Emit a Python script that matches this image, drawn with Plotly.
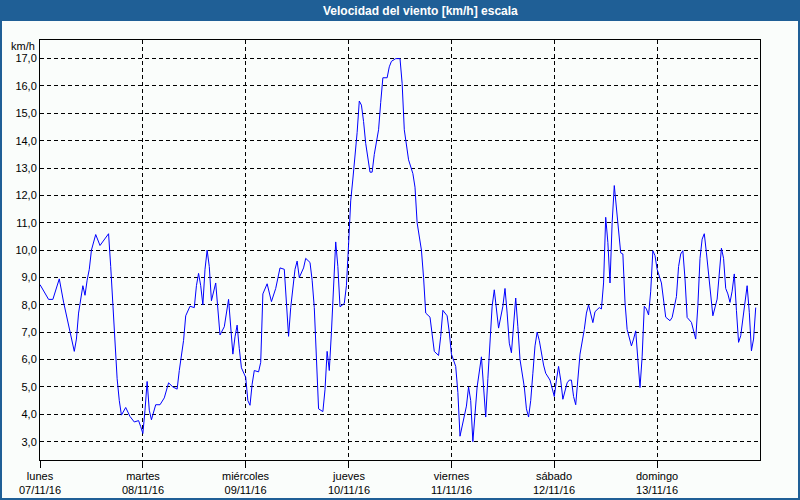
import pandas as pd
import plotly.graph_objects as go

# ---------------- data (readings per day: hour of day, km/h) ----------------
start_date = "2016-11-07"
day_names = ["lunes", "martes", "miércoles", "jueves", "viernes", "sábado", "domingo"]
day_dates = ["07/11/16", "08/11/16", "09/11/16", "10/11/16", "11/11/16", "12/11/16", "13/11/16"]

lunes = [(0, 8.74), (2, 8.2), (3, 8.2), (4.5, 8.95), (5.5, 8.1), (7, 7.0), (8, 6.3), (8.5, 6.75),
         (9, 7.7), (10, 8.7), (10.5, 8.35), (11, 8.9), (11.5, 9.3), (12, 10.0), (13, 10.57),
         (14, 10.17), (16, 10.6), (16.5, 9.4), (17, 8.0), (17.5, 6.5), (18, 5.3), (18.5, 4.5),
         (19, 3.97), (20, 4.25), (21, 3.92), (22, 3.72), (23, 3.77), (23.5, 3.55)]
martes = [(0, 3.3), (0.5, 4.15), (1, 5.2), (1.5, 4.15), (2, 3.8), (3, 4.35), (4, 4.35), (5, 4.6),
          (6, 5.15), (7, 5.0), (8, 4.92), (8.5, 5.6), (9.5, 6.7), (10, 7.6), (11, 7.95), (12, 7.9),
          (12.5, 8.7), (13, 9.15), (13.5, 8.7), (14, 8.0), (14.5, 9.3), (15, 10.0), (15.5, 9.4),
          (16, 8.15), (17, 8.8), (18, 6.9), (19, 7.2), (20, 8.2), (21, 6.2), (21.5, 6.83),
          (22, 7.26), (22.5, 6.4), (23, 5.7)]
miercoles = [(0, 5.35), (0.5, 4.5), (1, 4.33), (1.5, 5.1), (2, 5.6), (3, 5.55), (3.5, 5.9), (4, 8.4),
             (5, 8.77), (6, 8.12), (7, 8.6), (8, 9.35), (9, 9.3), (9.5, 8.0), (10, 6.85), (10.5, 7.9),
             (11.5, 9.3), (12, 9.6), (12.5, 9.0), (13.5, 9.35), (14, 9.7), (15, 9.55), (15.5, 8.9),
             (16, 7.9), (16.5, 6.0), (17, 4.2), (18, 4.1), (18.5, 4.9), (19, 6.3), (19.5, 5.6),
             (20, 7.0), (20.5, 8.9), (21, 10.3), (21.5, 9.4), (22, 7.93), (23, 8.05), (23.5, 8.7)]
jueves = [(0, 10.2), (0.5, 11.8), (1, 12.6), (1.5, 13.4), (2, 14.3), (2.5, 15.45), (3, 15.3),
          (3.5, 14.7), (4, 13.9), (5, 12.85), (5.5, 12.85), (6, 13.5), (7, 14.4), (7.5, 15.4),
          (8, 16.3), (9, 16.3), (9.5, 16.7), (10, 16.9), (11, 17.0), (12, 17.0), (12.5, 16.1),
          (13, 14.4), (14, 13.3), (15, 12.8), (15.5, 12.3), (16, 11.0), (17, 10.0), (17.5, 9.0),
          (18, 7.7), (19, 7.55), (19.5, 6.9), (20, 6.3), (21, 6.15), (21.5, 6.85), (22, 7.8),
          (23, 7.6), (23.5, 7.0)]
viernes = [(0, 6.2), (1, 5.75), (1.5, 4.8), (2, 3.2), (2.5, 3.55), (3.5, 4.3), (4, 5.0), (4.5, 4.5),
           (5, 3.0), (5.5, 3.9), (6, 5.0), (7, 6.1), (7.5, 5.0), (8, 3.9), (8.5, 5.3), (9, 6.9),
           (9.5, 7.95), (10, 8.55), (10.5, 7.8), (11, 7.15), (12, 7.95), (12.5, 8.6), (13, 7.7),
           (13.5, 6.6), (14, 6.25), (14.5, 7.35), (15, 8.25), (15.5, 7.2), (16, 6.0), (17, 5.0),
           (17.5, 4.2), (18, 3.9), (18.5, 4.5), (19, 5.5), (19.5, 6.5), (20, 7.0), (20.5, 6.7),
           (21.5, 5.8), (22, 5.5), (23, 5.25), (23.5, 4.9)]
sabado = [(0, 4.65), (0.5, 5.25), (1, 5.75), (1.5, 5.25), (2, 4.55), (3, 5.15), (3.5, 5.25), (4, 5.25),
          (4.5, 4.65), (5, 4.35), (5.5, 5.4), (6, 6.2), (7, 7.1), (7.5, 7.7), (8, 8.0), (8.5, 7.65),
          (9, 7.35), (9.5, 7.75), (10.5, 7.9), (11, 7.85), (11.5, 8.8), (12, 11.2), (12.5, 10.28),
          (13, 8.8), (13.5, 11.0), (14, 12.36), (14.5, 11.6), (15, 10.7), (15.5, 9.9), (16, 9.86),
          (16.5, 8.1), (17, 7.1), (18, 6.5), (18.5, 6.75), (19, 7.05), (19.5, 6.0), (20, 4.98),
          (20.5, 6.1), (21, 7.95), (21.5, 7.85), (22, 7.63), (22.5, 8.5), (23, 9.98), (23.5, 9.8)]
domingo = [(0, 9.3), (1, 8.8), (1.5, 8.1), (2, 7.55), (3, 7.42), (3.5, 7.54), (4.5, 8.3), (5, 9.4),
           (5.5, 9.86), (6, 9.98), (6.5, 8.95), (7, 7.54), (8, 7.36), (8.5, 7.0), (9, 6.75), (9.5, 7.97),
           (10, 9.7), (10.5, 10.4), (11, 10.6), (11.5, 9.9), (12, 9.1), (13, 7.6), (14, 8.21),
           (14.5, 9.3), (15, 10.07), (15.5, 9.7), (16, 8.6), (16.5, 8.4), (17, 8.09), (17.5, 8.5),
           (18, 9.13), (18.5, 7.8), (19, 6.63), (19.5, 6.87), (20, 7.48), (21, 8.7), (21.5, 7.73),
           (22, 6.32), (22.5, 6.75), (23, 7.9)]

y_ticks = list(range(3, 18))
y_ticktext = [f"{v},0" for v in y_ticks]

# ---------------- build series ----------------
t0 = pd.Timestamp(start_date)
days = [lunes, martes, miercoles, jueves, viernes, sabado, domingo]
times, speeds = [], []
for d, readings in enumerate(days):
    for h, v in readings:
        times.append(t0 + pd.Timedelta(hours=24 * d + h))
        speeds.append(v)

day_ticks = [t0 + pd.Timedelta(days=i) for i in range(7)]
day_labels = [f"{n}<br>{dt}" for n, dt in zip(day_names, day_dates)]

BLUE = "#1F5F96"
BODY = "#FAFDFB"

fig = go.Figure()
fig.add_trace(go.Scatter(x=times, y=speeds, mode="lines",
                         line=dict(color="#0000FF", width=1), hoverinfo="skip"))

W, H = 800, 500
L, R, T, B = 40, 40, 40, 40
PW, PH = W - L - R, H - T - B


def px(x):
    return (x - L) / PW


def py(y):
    return (H - B - y) / PH


shapes = [
    dict(type="rect", xref="paper", yref="paper", x0=px(0), x1=px(800), y0=py(21), y1=py(0),
         fillcolor=BLUE, line=dict(width=0), layer="above"),
    dict(type="rect", xref="paper", yref="paper", x0=px(0), x1=px(2), y0=py(500), y1=py(21),
         fillcolor=BLUE, line=dict(width=0), layer="above"),
    dict(type="rect", xref="paper", yref="paper", x0=px(798), x1=px(800), y0=py(500), y1=py(21),
         fillcolor=BLUE, line=dict(width=0), layer="above"),
    dict(type="rect", xref="paper", yref="paper", x0=px(0), x1=px(800), y0=py(500), y1=py(498),
         fillcolor=BLUE, line=dict(width=0), layer="above"),
]

annotations = [
    dict(text="<b>Velocidad del viento [km/h] escala</b>", xref="paper", yref="paper",
         x=px(420), y=py(10.5), xanchor="center", yanchor="middle", showarrow=False,
         font=dict(family="Liberation Sans", size=12, color="white")),
    dict(text="km/h", xref="paper", yref="paper", x=px(37), y=py(46), xanchor="right",
         yanchor="middle", showarrow=False,
         font=dict(family="Liberation Sans", size=11, color="black")),
]
for tv, lab in zip(day_ticks, day_labels):
    annotations.append(dict(text=lab, xref="x", yref="paper", x=tv, y=py(482.5),
                            xanchor="center", yanchor="middle", showarrow=False,
                            font=dict(family="Liberation Sans", size=11, color="black")))

fig.update_layout(
    width=W, height=H,
    margin=dict(l=L, r=R, t=T, b=B, autoexpand=False),
    paper_bgcolor=BODY, plot_bgcolor=BODY,
    showlegend=False,
    font=dict(family="Liberation Sans", size=11, color="black"),
    shapes=shapes, annotations=annotations,
    xaxis=dict(type="date", range=[t0, t0 + pd.Timedelta(days=7)],
               tickmode="array", tickvals=day_ticks, showticklabels=False,
               showgrid=True, gridcolor="black", gridwidth=1, griddash="4px,3px",
               showline=True, linecolor="black", linewidth=1, mirror=True,
               ticks="outside", ticklen=7, tickcolor="black", zeroline=False,
               automargin=False, fixedrange=True),
    yaxis=dict(range=[2.33, 17.68], tickmode="array", tickvals=y_ticks, ticktext=y_ticktext,
               showgrid=True, gridcolor="black", gridwidth=1, griddash="4px,3px",
               showline=True, linecolor="black", linewidth=1, mirror=True,
               ticks="", zeroline=False, automargin=False, fixedrange=True),
)

fig.write_html("out.html", config={"displayModeBar": False, "staticPlot": True},
               post_script="document.body.style.margin='0';document.body.style.padding='0';")
